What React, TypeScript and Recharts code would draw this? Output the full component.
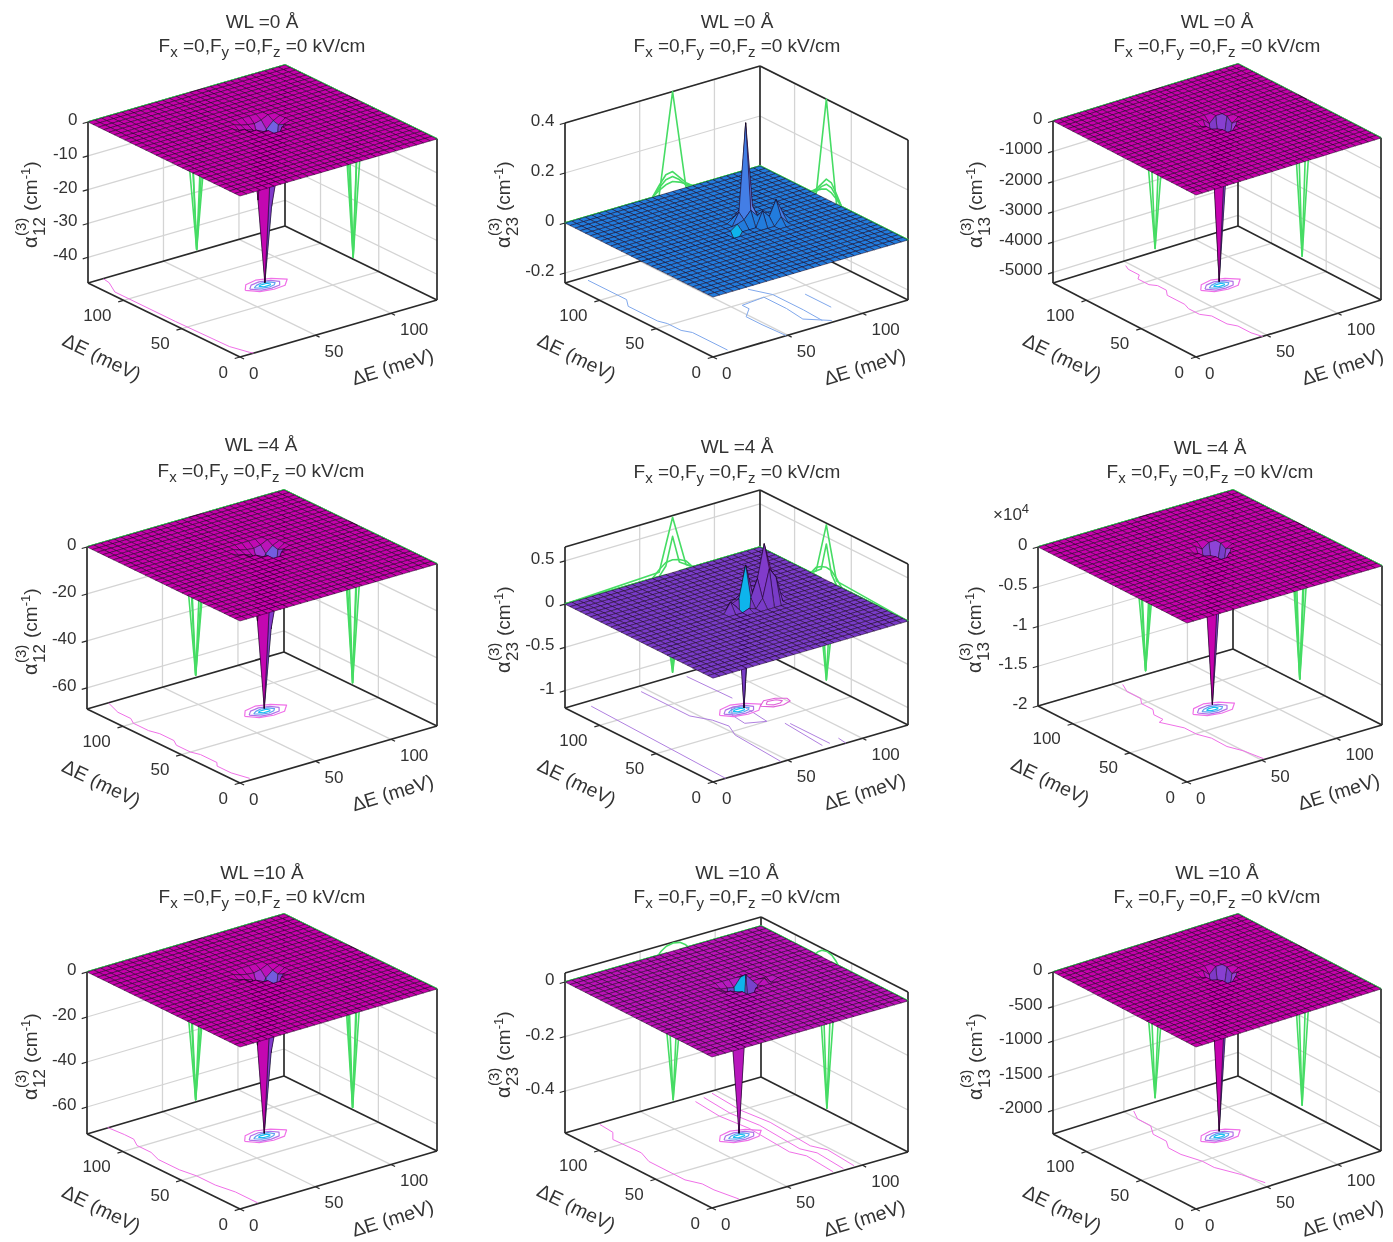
import React from 'react';
import { ScatterChart, Scatter, XAxis, YAxis } from 'recharts';

// ---------- data ----------
const gridE = [0,4.5,9,13.5,18,22.5,27,31.5,36,40.5,45,49.5,54,58.5,63,67.5,72,76.5,81,85.5,90,94.5,99,103.5,108,112.5,117,121.5,126,130.5];
const energyTicks = [50, 100];
const wlTitles = ['WL =0 Å', 'WL =4 Å', 'WL =10 Å'];

type Sparse = [number, number, number][];
// nonzero surface samples: [index along right axis, index along left axis, alpha]
const alpha12Wl0: Sparse = [[16,16,-47],[16,15,-15],[17,15,-15],[16,14,-5],[15,16,-22],[16,17,-8],[17,16,-25],[15,15,-1],[17,17,-3],[15,17,-2],[14,16,-1.5],[14,17,-1.5],[13,17,-1],[16,18,-1.5],[15,18,-1.2],[17,18,-1],[18,16,-1.5],[18,17,-1],[18,15,-.6],[14,18,-.8]];
const alpha23Wl0: Sparse = [[17,16,.4],[16,16,.05],[17,15,.06],[18,16,.06],[17,17,.05],[18,15,.03],[16,15,.03],[16,17,.02],[20,14,.09],[19,14,.03],[21,14,.03],[20,13,.03],[18,14,.06],[14,14,-.04],[15,15,.02]];
const alpha13Wl0: Sparse = [[16,16,-5250],[16,15,-1500],[17,15,-1000],[16,14,-300],[15,16,-1100],[16,17,-1700],[17,16,-2000],[17,17,-1500],[15,15,-60],[15,17,-400],[14,17,-80],[16,18,-200],[18,16,-150]];
const alpha12Wl4: Sparse = [[16,16,-68],[16,15,-21],[17,15,-21],[16,14,-7],[15,16,-30],[16,17,-11],[17,16,-35],[15,15,-1.5],[17,17,-4],[15,17,-3],[14,16,-2],[14,17,-2],[13,17,-1.4],[16,18,-2],[15,18,-1.7],[17,18,-1.4],[18,16,-2],[18,17,-1.4],[18,15,-.8],[14,18,-1.1]];
const alpha23Wl4: Sparse = [[16,15,-1.15],[17,16,.45],[19,15,.68],[20,15,.35],[19,14,.42],[20,14,.3],[18,15,.3],[19,16,.2],[18,16,.1],[17,15,.1],[17,17,.08],[18,14,.1],[21,15,.1],[16,16,.08],[15,16,.05],[14,15,.12],[15,15,.03],[16,17,.04],[16,14,.03]];
const alpha13Wl4: Sparse = [[16,16,-1.95],[16,15,-.5],[17,15,-.4],[16,14,-.12],[15,16,-.5],[16,17,-.6],[17,16,-.75],[17,17,-.5],[15,15,-.02],[15,17,-.15],[14,17,-.03],[16,18,-.06],[18,16,-.04]];
const alpha12Wl10: Sparse = [[16,16,-71],[16,15,-22],[17,15,-22],[16,14,-7],[15,16,-31],[16,17,-11],[17,16,-36],[15,15,-1.5],[17,17,-4],[15,17,-3],[14,16,-2],[14,17,-2],[13,17,-1.4],[16,18,-2],[15,18,-1.7],[17,18,-1.4],[18,16,-2],[18,17,-1.4],[18,15,-.8],[14,18,-1.1]];
const alpha23Wl10: Sparse = [[16,16,-.545],[16,15,-.22],[17,15,-.2],[16,14,-.06],[15,16,-.2],[17,16,.03],[17,17,.012],[16,17,-.02],[15,17,-.015],[14,17,-.012],[15,15,-.01],[18,15,-.006],[19,15,.012],[20,15,-.01],[14,16,-.012]];
const alpha13Wl10: Sparse = [[16,16,-2280],[16,15,-650],[17,15,-450],[16,14,-130],[15,16,-500],[16,17,-750],[17,16,-850],[17,17,-650],[15,15,-25],[15,17,-170],[14,17,-35],[16,18,-90],[18,16,-60]];

const ticks12Wl0 = [0,-10,-20,-30,-40];
const ticks23Wl0 = [0.4,0.2,0,-0.2];
const ticks13Wl0 = [0,-1000,-2000,-3000,-4000,-5000];
const ticks12Wl4 = [0,-20,-40,-60];
const ticks23Wl4 = [0.5,0,-0.5,-1];
const ticks13Wl4 = [0,-0.5,-1,-1.5,-2];
const ticks12Wl10 = [0,-20,-40,-60];
const ticks23Wl10 = [0,-0.2,-0.4];
const ticks13Wl10 = [0,-500,-1000,-1500,-2000];

// green wall profiles, [ΔE, alpha]
const wall12Wl0 = [[[0,0],[63,0],[72,-47],[81,0],[130.5,0]], [[0,0],[67.5,0],[72,-47],[76.5,0],[130.5,0]], [[0,0],[64,0],[67.5,-4],[72,-47],[78,-4],[82,0],[130.5,0]]];
const wall23Wl0 = [
  [[0,0],[63,0],[72,.4],[81,0],[130.5,0]],
  [[0,0],[58.5,0],[63,.04],[67.5,.075],[72,.08],[76.5,.05],[81,.02],[85.5,0],[130.5,0]],
  [[0,0],[58.5,0],[63,.03],[67.5,.055],[72,.06],[76.5,.04],[81,.01],[85.5,0],[130.5,0]],
  [[0,0],[58.5,0],[63,.02],[67.5,.035],[72,.04],[76.5,.03],[85.5,0],[130.5,0]],
];
const wall13Wl0 = [[[0,0],[63,0],[72,-5250],[81,0],[130.5,0]], [[0,0],[67.5,0],[72,-5250],[76.5,0],[130.5,0]]];
const wall12Wl4 = [[[0,0],[63,0],[72,-68],[81,0],[130.5,0]], [[0,0],[67.5,0],[72,-68],[76.5,0],[130.5,0]], [[0,0],[65,0],[68,-18],[72,-68],[78,-12],[80,0],[130.5,0]]];
const wall23Wl4 = [
  [[0,0],[63,.05],[72,.64],[81,.05],[85.5,0],[130.5,0]],
  [[0,0],[63,0],[67.5,.1],[72,.42],[76.5,.1],[85.5,0],[130.5,0]],
  [[0,0],[58.5,0],[63,.08],[67.5,.14],[72,.15],[76.5,.13],[81,.09],[85.5,0],[130.5,0]],
  [[0,0],[67.5,0],[72,-1.15],[76.5,0],[130.5,0]],
  [[0,0],[63,0],[72,-1.15],[81,0],[130.5,0]],
];
const wall13Wl4 = [[[0,0],[63,0],[72,-1.95],[81,0],[130.5,0]], [[0,0],[67.5,0],[72,-1.95],[76.5,0],[130.5,0]], [[0,0],[65,0],[68,-.6],[72,-1.95],[77,-.5],[80,0],[130.5,0]]];
const wall12Wl10 = [[[0,0],[63,0],[72,-71],[81,0],[130.5,0]], [[0,0],[67.5,0],[72,-71],[76.5,0],[130.5,0]], [[0,0],[65,0],[68,-20],[72,-71],[77,-20],[80,0],[130.5,0]]];
const wall23Wl10 = [
  [[0,0],[63,0],[72,-.545],[81,0],[130.5,0]],
  [[0,0],[67.5,0],[72,-.545],[76.5,0],[130.5,0]],
  [[0,0],[62,0],[64,.012],[67.5,.025],[72,.03],[76.5,.025],[80,.012],[82,0],[130.5,0]],
];
const wall13Wl10 = [[[0,0],[63,0],[72,-2280],[81,0],[130.5,0]], [[0,0],[67.5,0],[72,-2280],[76.5,0],[130.5,0]]];

// floor contours, [ΔE right axis, ΔE left axis] in meV
const contours12Wl0 = [[[10,130],[9,124],[3.5,112],[3.5,60],[4.5,15],[8,2],[9,0]]];
const contours23Wl0 = [
  [[12,126],[12,92],[7,84],[7,58],[9,52],[9,40],[12,34],[12,3]],
  [[56,48],[56,42],[48,34],[48,20],[49,0]],
  [[56,48],[72,50],[72,30],[70,13],[81,2]],
  [[72,64],[78,50],[78,23],[77,5]],
  [[92,40],[92,17]],
];
const contours13Wl0 = [[[47,125],[45,120],[45,110],[41,106],[41,96],[44,92],[44,84],[40,78],[40,62],[38,56],[38,46],[42,40],[42,26],[45,20],[45,8],[47,0]]];
const contours12Wl4 = [[[14,130],[10,117],[10,106],[7,100],[7,87],[9,80],[9,68],[6,62],[6,50],[8,44],[8,30],[5,26],[5,14],[8,2]]];
const contours23Wl4 = [
  [[12.6,124],[8.4,0]],
  [[46,124],[46,81],[52,69],[54,57],[49,45],[46,1]],
  [[70,76],[77,76],[74,50],[63,55],[64.5,68],[70,76]],
  [[78,126],[79,87]],
  [[80,42],[77,5]],
  [[82,40],[82,5]],
  [[90,8],[89,0]],
];
const contours13Wl4 = [[[54,127],[50,118],[50,106],[46,100],[46,90],[42,84],[42,76],[38,74],[44,60],[44,49],[47,40],[46.6,26],[50,16],[52,1]]];
const contours12Wl10 = [[[14,131],[15,118],[15,110],[11,102],[11,90],[8,80],[8,62],[10,50],[10,34],[12.5,20],[12.5,1]]];
const contours23Wl10 = [
  [[22,129],[21,116],[15,108],[16,84],[12,72],[12,40],[16,30],[16,19.6],[19,1.5]],
  [[82,124],[80,100],[82.5,77],[80,38],[84,28],[82,2]],
  [[89,126],[87,100],[89.5,77],[87,38],[91,28],[89,2]],
  [[96,128],[94,100],[96.5,77],[94,38],[98,28],[96,2]],
];
const contours13Wl10 = [[[55,128],[50,118],[50,106],[44,96],[44,84],[39.3,76],[39.3,64.6],[43,50],[43,39],[49,22],[52.7,5]]];

const spikeRings = [
  [[59,72],[64,66],[72,64],[80,65],[86,71],[80,77],[72,80],[64,78],[59,72]],
  [[62,72],[66,67],[72,66],[78,67],[81,71],[78,75],[72,77],[66,76],[62,72]],
  [[65,72],[68,69],[72,68],[76,69],[78,71],[76,74],[72,75],[68,74],[65,72]],
  [[68,72],[70,70],[72,70],[74,70],[75,71],[74,73],[72,73],[70,73],[68,72]],
];
const sideRings = [
  [[84,69],[89,64],[95,63],[101,65],[102,69],[97,73],[90,74],[84,69]],
  [[88,69],[91,66],[95,66],[98,68],[96,71],[91,72],[88,69]],
];

// ---------- layout ----------
type P = { ox:number; oy:number; w:number; h:number; O:number[]; L:number[]; R:number[]; H:number; zMin:number; zMax:number;
  sparse:Sparse; ticks:number[]; walls:number[][][]; contours:number[][][]; contourColor:string; rings:boolean; side?:boolean; sub:string; wl:number;
  title:number[]; lab:number[]; exp?:boolean };

const panels: P[] = [
  { ox:0, oy:0, w:465, h:425, O:[240,357], L:[88,283], R:[437,300], H:161, zMin:-47.6, zMax:0, sparse:alpha12Wl0, ticks:ticks12Wl0, walls:wall12Wl0, contours:contours12Wl0, contourColor:'#f070e8', rings:true, sub:'12', wl:0, title:[262,21,45], lab:[37,248] },
  { ox:470, oy:0, w:465, h:425, O:[713,357], L:[565,283], R:[908,300], H:160, zMin:-0.24, zMax:0.4, sparse:alpha23Wl0, ticks:ticks23Wl0, walls:wall23Wl0, contours:contours23Wl0, contourColor:'#80a8ec', rings:false, sub:'23', wl:0, title:[737,21,45], lab:[510,248] },
  { ox:940, oy:0, w:453, h:425, O:[1196,357], L:[1053,283], R:[1381,300], H:162, zMin:-5350, zMax:0, sparse:alpha13Wl0, ticks:ticks13Wl0, walls:wall13Wl0, contours:contours13Wl0, contourColor:'#f070e8', rings:true, sub:'13', wl:0, title:[1217,21,45], lab:[982,248] },
  { ox:0, oy:425, w:465, h:425, O:[240,783], L:[87,709], R:[437,726], H:162, zMin:-69, zMax:0, sparse:alpha12Wl4, ticks:ticks12Wl4, walls:wall12Wl4, contours:contours12Wl4, contourColor:'#f070e8', rings:true, sub:'12', wl:1, title:[261,444,470], lab:[37,675] },
  { ox:470, oy:425, w:465, h:425, O:[713,782], L:[565,708], R:[908,725], H:161, zMin:-1.2, zMax:0.66, sparse:alpha23Wl4, ticks:ticks23Wl4, walls:wall23Wl4, contours:contours23Wl4, contourColor:'#b080e0', rings:true, side:true, sub:'23', wl:1, title:[737,446,471], lab:[510,673] },
  { ox:940, oy:425, w:453, h:425, O:[1187,782], L:[1038,706], R:[1382,725], H:159, zMin:-2, zMax:0, sparse:alpha13Wl4, ticks:ticks13Wl4, walls:wall13Wl4, contours:contours13Wl4, contourColor:'#f070e8', rings:true, sub:'13', wl:1, title:[1210,447,471], lab:[981,673], exp:true },
  { ox:0, oy:850, w:465, h:392, O:[240,1209], L:[87,1134], R:[437,1151], H:162, zMin:-72, zMax:0, sparse:alpha12Wl10, ticks:ticks12Wl10, walls:wall12Wl10, contours:contours12Wl10, contourColor:'#f070e8', rings:true, sub:'12', wl:2, title:[262,872,896], lab:[37,1100] },
  { ox:470, oy:850, w:465, h:392, O:[712,1208], L:[565,1133], R:[908,1152], H:160, zMin:-0.554, zMax:0.033, sparse:alpha23Wl10, ticks:ticks23Wl10, walls:wall23Wl10, contours:contours23Wl10, contourColor:'#f070e8', rings:true, sub:'23', wl:2, title:[737,872,896], lab:[510,1098] },
  { ox:940, oy:850, w:453, h:392, O:[1196,1209], L:[1053,1134], R:[1381,1151], H:162, zMin:-2343, zMax:0, sparse:alpha13Wl10, ticks:ticks13Wl10, walls:wall13Wl10, contours:contours13Wl10, contourColor:'#f070e8', rings:true, sub:'13', wl:2, title:[1217,872,896], lab:[982,1100] },
];

const FONT = '"Liberation Sans", Arial, sans-serif';
const INK = '#333333';
const N = gridE.length;
const Emax = gridE[N - 1];

const stops: [number, number[]][] = [
  [0, [14, 180, 236]], [0.11, [38, 112, 218]], [0.2, [92, 138, 240]], [0.4, [112, 112, 238]], [0.65, [122, 54, 196]], [0.78, [150, 72, 222]], [1, [200, 0, 172]],
];
function cmap(v: number) {
  const t = Math.max(0, Math.min(1, v));
  for (let k = 1; k < stops.length; k++) {
    if (t <= stops[k][0]) {
      const [a, ca] = stops[k - 1];
      const [b, cb] = stops[k];
      const f = (t - a) / (b - a);
      return `rgb(${ca.map((c, m) => Math.round(c + (cb[m] - c) * f)).join(',')})`;
    }
  }
  return 'rgb(200,0,172)';
}

const project = (p: P, x: number, y: number, z: number) => ({
  px: p.O[0] - p.ox + (x / Emax) * (p.R[0] - p.O[0]) + (y / Emax) * (p.L[0] - p.O[0]),
  py: p.O[1] - p.oy + (x / Emax) * (p.R[1] - p.O[1]) + (y / Emax) * (p.L[1] - p.O[1]) - ((z - p.zMin) / (p.zMax - p.zMin)) * p.H,
});

const NoDot = () => null;

type Line = { pts: { px: number; py: number }[]; stroke: string; width: number };
function polylineSeries(key: string, lines: Line[]) {
  const data = lines.flatMap((l) => l.pts);
  const groups = lines.map((l) => ({ n: l.pts.length, stroke: l.stroke, width: l.width }));
  const render = (props: any) => {
    const pts = props.points as { x: number; y: number }[];
    let k = 0;
    return (
      <g key={key}>
        {groups.map((g, gi) => {
          const d = pts.slice(k, k + g.n).map((q, m) => `${m ? 'L' : 'M'}${q.x.toFixed(2)} ${q.y.toFixed(2)}`).join('');
          k += g.n;
          return <path key={gi} d={d} fill="none" stroke={g.stroke} strokeWidth={g.width} strokeLinejoin="round" />;
        })}
      </g>
    );
  };
  return <Scatter key={key} data={data} line={render} shape={NoDot} isAnimationActive={false} legendType="none" tooltipType="none" />;
}

function zGrid(p: P) {
  const z = gridE.map(() => gridE.map(() => 0));
  p.sparse.forEach(([i, j, v]) => { z[i][j] = v; });
  return z;
}

function surfaceSeries(p: P, z: number[][]) {
  const data: { px: number; py: number }[] = [];
  gridE.forEach((ex, i) => gridE.forEach((ey, j) => data.push(project(p, ex, ey, z[i][j]))));
  const flat = z.flat();
  const cMin = Math.min(...flat);
  const cMax = Math.max(...flat);
  const render = (props: any) => {
    const pts = props.points as { x: number; y: number }[];
    const cells: React.ReactNode[] = [];
    for (let i = N - 2; i >= 0; i--) {
      for (let j = N - 2; j >= 0; j--) {
        const q = [pts[i * N + j], pts[(i + 1) * N + j], pts[(i + 1) * N + j + 1], pts[i * N + j + 1]];
        const d = q.map((c, m) => `${m ? 'L' : 'M'}${c.x.toFixed(2)} ${c.y.toFixed(2)}`).join('') + 'Z';
        cells.push(<path key={i * N + j} d={d} fill={cmap((z[i][j] - cMin) / (cMax - cMin))} stroke="#14001a" strokeWidth={0.5} strokeLinejoin="round" />);
      }
    }
    return <g key="surface">{cells}</g>;
  };
  return <Scatter key="surface" data={data} line={render} shape={NoDot} isAnimationActive={false} legendType="none" tooltipType="none" />;
}

function frameLines(p: P) {
  const GRID = '#d4d4d4';
  const EDGE = '#2a2a2a';
  const lines: Line[] = [];
  const seg = (a: number[], b: number[], stroke: string, width: number) =>
    lines.push({ pts: [project(p, a[0], a[1], a[2]), project(p, b[0], b[1], b[2])], stroke, width });
  const { zMin: a, zMax: b } = p;
  energyTicks.forEach((v) => {
    seg([v, 0, a], [v, Emax, a], GRID, 1.3);
    seg([0, v, a], [Emax, v, a], GRID, 1.3);
    seg([v, Emax, a], [v, Emax, b], GRID, 1.3);
    seg([Emax, v, a], [Emax, v, b], GRID, 1.3);
  });
  p.ticks.forEach((t) => {
    seg([0, Emax, t], [Emax, Emax, t], GRID, 1.3);
    seg([Emax, 0, t], [Emax, Emax, t], GRID, 1.3);
    seg([0, Emax, t], [-3.5, Emax, t], EDGE, 1.2);
  });
  const W = 1.7;
  seg([0, Emax, a], [Emax, Emax, a], EDGE, W);
  seg([Emax, Emax, a], [Emax, 0, a], EDGE, W);
  seg([Emax, Emax, a], [Emax, Emax, b], EDGE, W);
  seg([0, Emax, a], [0, Emax, b], EDGE, W);
  seg([Emax, 0, a], [Emax, 0, b], EDGE, W);
  seg([0, Emax, b], [Emax, Emax, b], EDGE, W);
  seg([Emax, 0, b], [Emax, Emax, b], EDGE, W);
  seg([0, 0, a], [0, Emax, a], EDGE, W);
  seg([0, 0, a], [Emax, 0, a], EDGE, W);
  [0, ...energyTicks].forEach((v) => {
    seg([0, v, a], [-3.5, v, a], EDGE, 1.2);
    seg([v, 0, a], [v, -3.5, a], EDGE, 1.2);
  });
  return lines;
}

function wallLines(p: P) {
  const GREEN = '#46dc64';
  const lines: Line[] = [];
  p.walls.forEach((w) => {
    lines.push({ pts: w.map(([e, v]) => project(p, e, Emax, v)), stroke: GREEN, width: 1.6 });
    lines.push({ pts: w.map(([e, v]) => project(p, Emax, e, v)), stroke: GREEN, width: 1.6 });
  });
  return lines;
}

function floorLines(p: P) {
  const toPts = (path: number[][]) => path.map(([x, y]) => project(p, x, y, p.zMin));
  const lines: Line[] = p.contours.map((c) => ({ pts: toPts(c), stroke: p.contourColor, width: 1 }));
  if (p.rings) {
    ['#f070e8', '#b070e8', '#60a0f0', '#18c0f0'].forEach((col, k) => lines.push({ pts: toPts(spikeRings[k]), stroke: col, width: 1.2 }));
  }
  if (p.side) {
    sideRings.forEach((r) => lines.push({ pts: toPts(r), stroke: '#e060d8', width: 1.1 }));
  }
  return lines;
}

// ---------- text ----------
type Lab = { px: number; py: number; kind: string; text: string; sub?: string };

const TextShape = (props: any) => {
  const { cx, cy, payload } = props;
  const d: Lab = payload;
  const base = { fontFamily: FONT, fill: INK } as const;
  if (d.kind === 'title') {
    return <text x={cx} y={cy} textAnchor="middle" dominantBaseline="central" fontSize={19} {...base}>{d.text}</text>;
  }
  if (d.kind === 'field') {
    const part = (s: string, t: string) => (
      <>
        <tspan>F</tspan>
        <tspan dy={6} fontSize={15}>{s}</tspan>
        <tspan dy={-6}>{t}</tspan>
      </>
    );
    return (
      <text x={cx} y={cy} textAnchor="middle" dominantBaseline="central" fontSize={19} {...base}>
        {part('x', ' =0,')}{part('y', ' =0,')}{part('z', ' =0 kV/cm')}
      </text>
    );
  }
  if (d.kind === 'zt' || d.kind === 'lt') return <text x={cx} y={cy} textAnchor="end" dominantBaseline="central" fontSize={17} {...base}>{d.text}</text>;
  if (d.kind === 'rt') return <text x={cx} y={cy} textAnchor="start" dominantBaseline="central" fontSize={17} {...base}>{d.text}</text>;
  if (d.kind === 'la') return <text transform={`translate(${cx},${cy}) rotate(26)`} textAnchor="middle" dominantBaseline="central" fontSize={19.5} {...base}>{d.text}</text>;
  if (d.kind === 'ra') return <text transform={`translate(${cx},${cy}) rotate(-17)`} textAnchor="middle" dominantBaseline="central" fontSize={19.5} {...base}>{d.text}</text>;
  if (d.kind === 'exp') {
    return (
      <text x={cx} y={cy} textAnchor="start" dominantBaseline="central" fontSize={17} {...base}>
        <tspan>×10</tspan><tspan dy={-6} fontSize={13}>4</tspan>
      </text>
    );
  }
  if (d.kind === 'alpha') {
    return (
      <g transform={`translate(${cx},${cy}) rotate(-90)`} {...base}>
        <text x={0} y={0} fontSize={20}>α</text>
        <text x={12} y={-11} fontSize={15}>(3)</text>
        <text x={12} y={8} fontSize={17}>{d.sub}</text>
        <text x={37} y={0} fontSize={19}>(cm<tspan dy={-7} fontSize={13}>-1</tspan><tspan dy={7}>)</tspan></text>
      </g>
    );
  }
  return null;
};

function labels(p: P): Lab[] {
  const out: Lab[] = [];
  const at = (x: number, y: number) => ({ px: x - p.ox, py: y - p.oy });
  out.push({ ...at(p.title[0], p.title[1]), kind: 'title', text: wlTitles[p.wl] });
  out.push({ ...at(p.title[0], p.title[2]), kind: 'field', text: 'F' });
  p.ticks.forEach((t) => {
    const q = project(p, 0, Emax, t);
    out.push({ px: q.px - 10.5, py: q.py - 2.5, kind: 'zt', text: String(t) });
  });
  [0, ...energyTicks].forEach((v) => {
    const l = project(p, 0, v, p.zMin);
    out.push({ px: l.px - 12, py: l.py + 15, kind: 'lt', text: String(v) });
    const r = project(p, v, 0, p.zMin);
    out.push({ px: r.px + 9, py: r.py + 16, kind: 'rt', text: String(v) });
  });
  const lc = project(p, 0, Emax * 0.5, p.zMin);
  out.push({ px: lc.px - 62, py: lc.py + 37, kind: 'la', text: 'ΔE (meV)' });
  const rc = project(p, Emax * 0.5, 0, p.zMin);
  out.push({ px: rc.px + 54, py: rc.py + 38, kind: 'ra', text: 'ΔE (meV)' });
  out.push({ ...at(p.lab[0], p.lab[1]), kind: 'alpha', text: 'α', sub: p.sub });
  if (p.exp) out.push({ ...at(p.L[0] - 45, p.L[1] - 192), kind: 'exp', text: '×10' });
  return out;
}

function Panel({ p }: { p: P }) {
  const z = zGrid(p);
  return (
    <div style={{ position: 'absolute', left: p.ox, top: p.oy }}>
      <ScatterChart width={p.w} height={p.h} margin={{ top: 0, right: 0, bottom: 0, left: 0 }}>
        <XAxis type="number" dataKey="px" domain={[0, p.w]} hide scale="linear" />
        <YAxis type="number" dataKey="py" domain={[0, p.h]} reversed hide scale="linear" />
        {polylineSeries('frame', frameLines(p))}
        {polylineSeries('floor', floorLines(p))}
        {polylineSeries('walls', wallLines(p))}
        {surfaceSeries(p, z)}
        <Scatter key="labels" data={labels(p)} shape={TextShape} isAnimationActive={false} legendType="none" tooltipType="none" />
      </ScatterChart>
    </div>
  );
}

export default function App() {
  return (
    <div style={{ position: 'absolute', left: 0, top: 0, width: 1393, height: 1242, background: '#fff', overflow: 'hidden', filter: 'blur(0.45px)' }}>
      {panels.map((p, k) => <Panel key={k} p={p} />)}
    </div>
  );
}
